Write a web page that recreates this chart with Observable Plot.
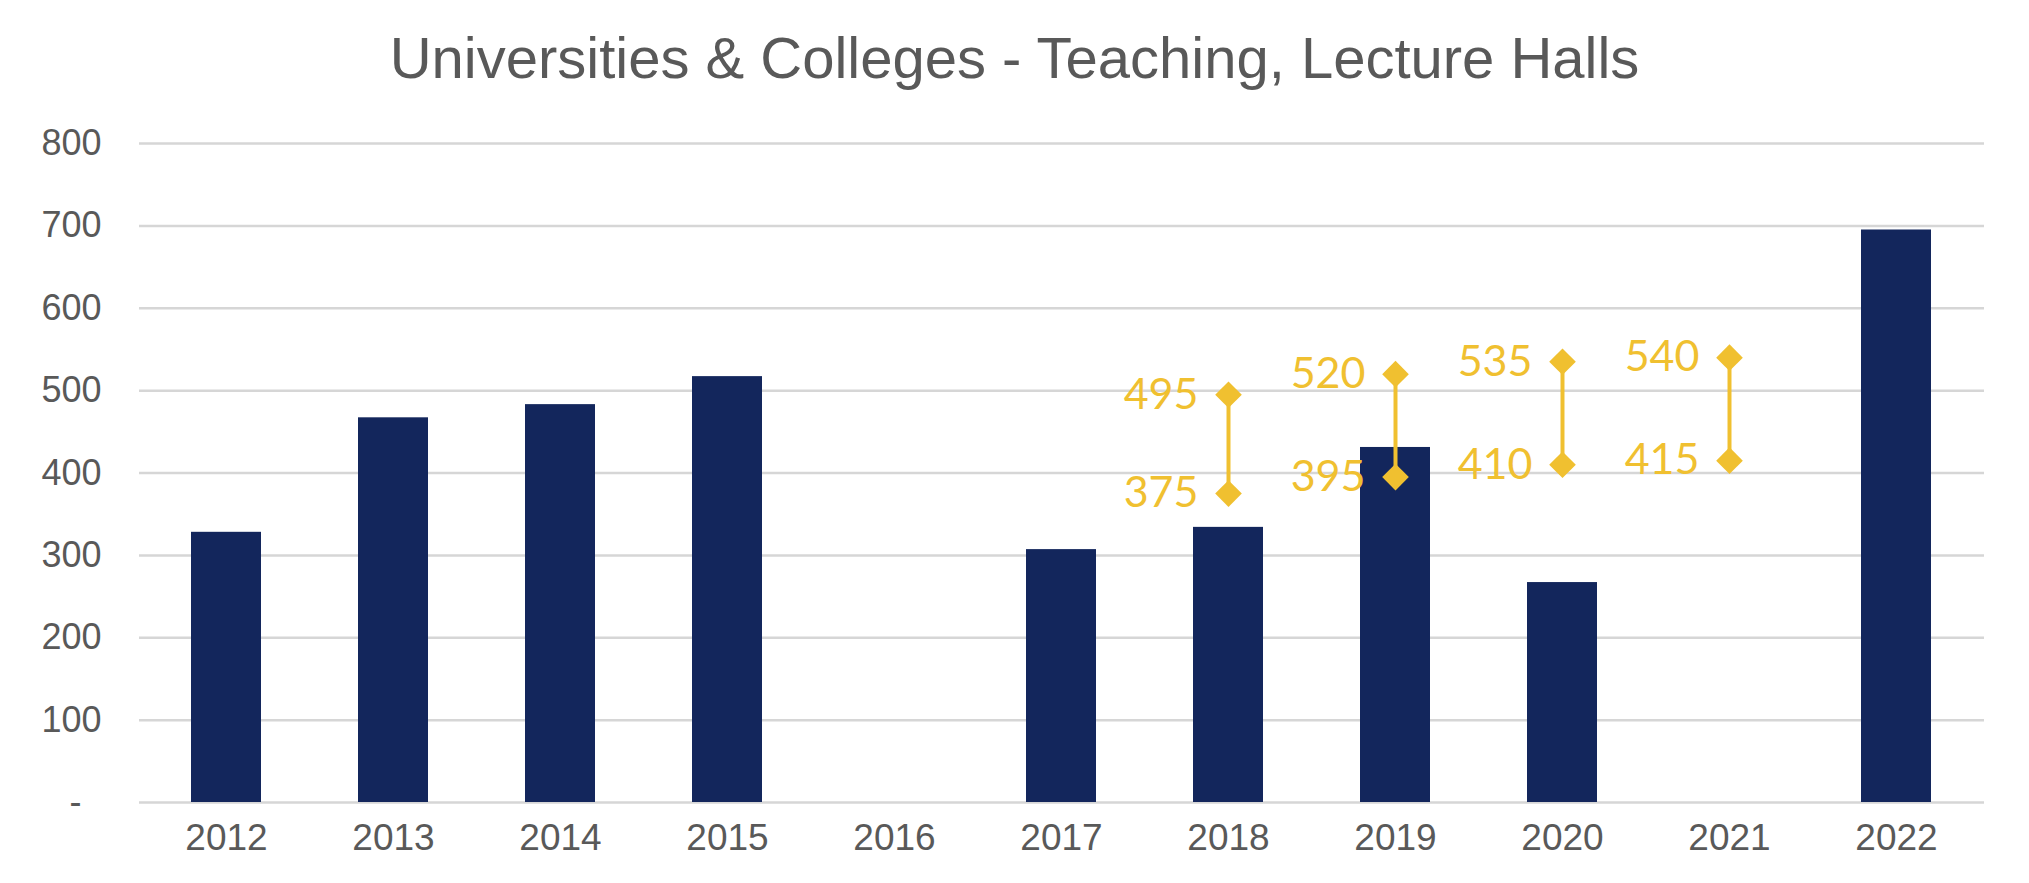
<!DOCTYPE html>
<html>
<head>
<meta charset="utf-8">
<script src="https://cdn.jsdelivr.net/npm/d3@7"></script>
<script src="https://cdn.jsdelivr.net/npm/@observablehq/plot@0.6"></script>
<style>
  html, body { margin: 0; padding: 0; background: #ffffff; }
  #title {
    width: 2029px; height: 110px; box-sizing: border-box; padding-top: 29px;
    font-family: "Liberation Sans", Arial, sans-serif; font-size: 58px; line-height: 58px;
    color: #595959; text-align: center; white-space: nowrap;
  }
</style>
</head>
<body>
<div id="title">Universities &amp; Colleges - Teaching, Lecture Halls</div>
<div id="chart"></div>
<script>
// Categories and values
const years = ["2012", "2013", "2014", "2015", "2016", "2017", "2018", "2019", "2020", "2021", "2022"];
const barValues = [328, 467, 483, 517, null, 307, 334, 431, 267, null, 695];

// Range markers (low / high)
const rangeYears = ["2018", "2019", "2020", "2021"];
const rangeLow = [375, 395, 410, 415];
const rangeHigh = [495, 520, 535, 540];

// Y tick values
const yTicks = [0, 100, 200, 300, 400, 500, 600, 700, 800];

const bars = years.map((y, i) => ({year: y, value: barValues[i]})).filter(d => d.value != null);
const ranges = rangeYears.map((y, i) => ({year: y, low: rangeLow[i], high: rangeHigh[i]}));
const ends = ranges.flatMap(d => [{year: d.year, v: d.low}, {year: d.year, v: d.high}]);

const navy = "#13265c";
const gold = "#f0c030";

const chart = Plot.plot({
  width: 2029,
  height: 773,
  marginTop: 33,
  marginBottom: 81,
  marginLeft: 139,
  marginRight: 45,
  style: {fontFamily: "Liberation Sans, Arial, sans-serif", fontSize: "36px", color: "#595959", background: "#ffffff", overflow: "visible"},
  x: {type: "band", domain: years, paddingInner: 0.58, paddingOuter: 0.29, label: null},
  y: {domain: [0, 800], label: null},
  marks: [
    Plot.ruleY(yTicks, {stroke: "#d6d6d6", strokeWidth: 2.5}),
    Plot.barY(bars, {x: "year", y: "value", fill: navy}),
    Plot.ruleX(ranges, {x: "year", y1: "low", y2: "high", stroke: gold, strokeWidth: 4}),
    Plot.dot(ends, {x: "year", y: "v", symbol: "diamond2", r: 12, fill: gold, stroke: "none"}),
    Plot.text(ends, {x: "year", y: "v", text: d => String(d.v), dx: -30, textAnchor: "end", fill: gold, fontSize: 43, fontFamily: "Lato, 'Open Sans', sans-serif"}),
    Plot.axisY({ticks: yTicks, tickSize: 0, tickPadding: 38, tickFormat: d => d === 0 ? "-\u00a0\u00a0" : String(d), fontSize: 36}),
    Plot.axisX({tickSize: 0, tickPadding: 21, fontSize: 37})
  ]
});
document.getElementById("chart").appendChild(chart);
</script>
</body>
</html>
